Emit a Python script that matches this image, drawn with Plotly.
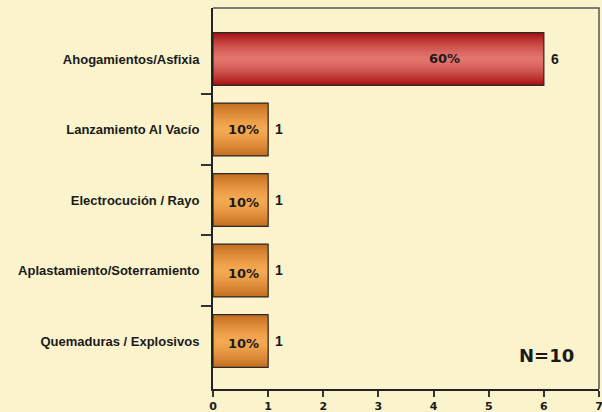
import plotly.graph_objects as go

categories = [
    "Ahogamientos/Asfixia",
    "Lanzamiento Al Vacío",
    "Electrocución / Rayo",
    "Aplastamiento/Soterramiento",
    "Quemaduras / Explosivos",
]
values = [6, 1, 1, 1, 1]
total_label = "N=10"
x_ticks = [0, 1, 2, 3, 4, 5, 6, 7]

total = sum(values)
pos = list(range(len(categories)))
boundaries = [p + 0.5 for p in pos[:-1]]
vmax = max(values)

BG = "#FAF3CC"


def hex2rgb(h):
    h = h.lstrip("#")
    return [int(h[i:i + 2], 16) for i in (0, 2, 4)]


def mix(a, b, t):
    a, b = hex2rgb(a), hex2rgb(b)
    c = [round(a[i] * (1 - t) + b[i] * t) for i in range(3)]
    return "rgb(%d,%d,%d)" % tuple(c)


edge_cols = ["#A50E0F" if v == vmax else "#C26C1E" for v in values]
center_cols = ["#E3756D" if v == vmax else "#F5A852" for v in values]

fig = go.Figure()
n_layers = 16
bar_w = 0.75
for k in range(n_layers):
    frac = 1 - k / n_layers
    d = 1 - (k + 0.5) / n_layers
    t = d ** 1.4
    cols = [mix(c, e, t) for c, e in zip(center_cols, edge_cols)]
    fig.add_trace(go.Bar(
        x=values, y=pos, orientation="h", width=bar_w * frac,
        marker=dict(color=cols, line=dict(width=0)),
        hoverinfo="skip", showlegend=False,
    ))
# outline
fig.add_trace(go.Bar(
    x=values, y=pos, orientation="h", width=bar_w,
    marker=dict(color="rgba(0,0,0,0)", line=dict(color="#2a2a2a", width=1.2)),
    hoverinfo="skip", showlegend=False,
))

annotations = []
for v, p in zip(values, pos):
    pct = f"{round(v / total * 100)}%"
    annotations.append(dict(
        x=v * 0.7 if v > 1 else v * 0.55, y=p, xref="x", yref="y",
        text=pct, showarrow=False, yshift=0 if v > 1 or p < 2 else -3,
        font=dict(family="DejaVu Sans", size=13, color="#1a1a1a", weight="bold"),
    ))
    annotations.append(dict(
        x=v, y=p, xref="x", yref="y", text=str(v), showarrow=False,
        xanchor="left", xshift=5,
        font=dict(family="Liberation Sans", size=14, color="#1a1a1a", weight="bold"),
    ))
annotations.append(dict(
    x=0.863, y=0.087, xref="paper", yref="paper", text=total_label,
    showarrow=False, xanchor="center", yanchor="middle",
    font=dict(family="DejaVu Sans", size=18, color="#1a1a1a", weight="bold"),
))

fig.update_layout(
    width=602, height=412,
    margin=dict(l=213, r=3, t=8, b=23, autoexpand=False),
    paper_bgcolor=BG, plot_bgcolor=BG,
    barmode="overlay",
    annotations=annotations,
    shapes=[dict(type="path", xref="paper", yref="paper", path="M 0,1 L 1,1 L 1,0",
                 line=dict(color="#555555", width=1.5), layer="above")],
)
fig.update_xaxes(
    range=[0, 7], tickvals=x_ticks, ticks="outside", ticklen=6, tickwidth=1.5,
    tickcolor="#333333", showline=True, linewidth=2, linecolor="#222222",
    showgrid=False, zeroline=False, ticklabeloverflow="allow", automargin=False,
    tickfont=dict(family="DejaVu Sans", size=11, color="#1a1a1a", weight="bold"),
)
fig.update_yaxes(
    range=[4.681, -0.723], tickvals=pos, ticktext=categories, ticks="",
    showline=True, linewidth=2, linecolor="#222222", showgrid=False, zeroline=False,
    ticklabelstandoff=9, automargin=False,
    tickfont=dict(family="Liberation Sans", size=13, color="#1a1a1a", weight="bold"),
    minor=dict(tickvals=boundaries, ticks="outside", ticklen=10, tickwidth=1.5,
               tickcolor="#333333", showgrid=False),
)

fig.write_html(
    "out.html",
    config={"displayModeBar": False},
    post_script="document.body.style.margin='0';document.body.style.background='%s';" % BG,
)
